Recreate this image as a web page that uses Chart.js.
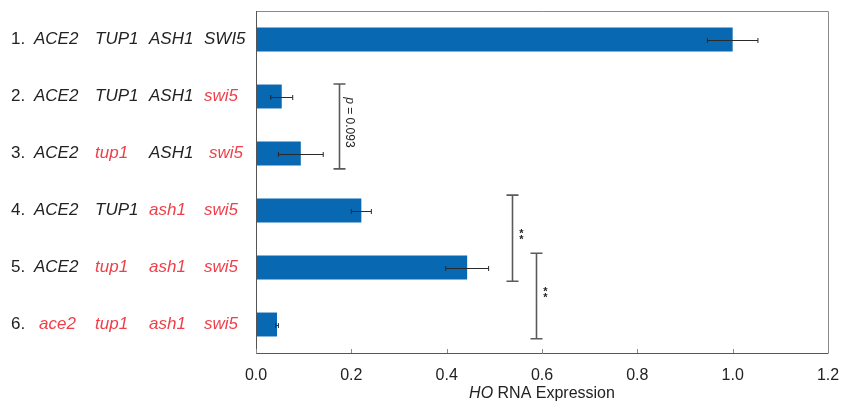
<!DOCTYPE html>
<html>
<head>
<meta charset="utf-8">
<script src="https://cdn.jsdelivr.net/npm/chart.js@4/dist/chart.umd.min.js"></script>
<style>
  html, body { margin: 0; padding: 0; background: #fff; }
  #wrap { width: 841px; height: 408px; position: relative; }
</style>
</head>
<body>
<div id="wrap"><canvas id="chart_HO"></canvas></div>
<script>
// strain rows (lower case = mutant allele, drawn red)
var rowNumbers = ['1.', '2.', '3.', '4.', '5.', '6.'];
var genotypes = [
  ['ACE2', 'TUP1', 'ASH1', 'SWI5'],
  ['ACE2', 'TUP1', 'ASH1', 'swi5'],
  ['ACE2', 'tup1', 'ASH1', 'swi5'],
  ['ACE2', 'TUP1', 'ash1', 'swi5'],
  ['ACE2', 'tup1', 'ash1', 'swi5'],
  ['ace2', 'tup1', 'ash1', 'swi5']
];
// HO RNA expression and error
var expression = [1.0, 0.054, 0.094, 0.221, 0.443, 0.044];
var errors = [0.053, 0.023, 0.047, 0.021, 0.045, 0.003];
var xTicks = [0, 0.2, 0.4, 0.6, 0.8, 1.0, 1.2];

// significance brackets: x value, from row, to row, label
var bracketX = [0.174, 0.538, 0.587];
var bracketFrom = [0.78, 2.73, 3.75];
var bracketTo = [2.27, 4.24, 5.25];
var bracketText = ['p = 0.093', '**', '**'];

var black = '#222222';
var red = '#ee3f4a';
var colX = [34, 95, 149, 204];
var fam = '"Liberation Sans", Arial, sans-serif';

var ctxHO = document.getElementById('chart_HO').getContext('2d');

// draws row labels, error bars, box, brackets and axis title
var extrasPlugin = {
  id: 'extras',
  afterDatasetsDraw: function(chart) {
    var c = chart.ctx;
    var xs = chart.scales.x;
    var ys = chart.scales.y;
    var area = chart.chartArea;
    c.save();

    // box around plot
    c.strokeStyle = '#8a8a8a';
    c.lineWidth = 1;
    c.beginPath();
    c.moveTo(area.left, area.top + 0.5);
    c.lineTo(area.right + 0.5, area.top + 0.5);
    c.lineTo(area.right + 0.5, area.bottom);
    c.stroke();
    c.strokeStyle = '#555';
    c.beginPath();
    c.moveTo(area.left + 0.5, area.top);
    c.lineTo(area.left + 0.5, area.bottom + 0.5);
    c.lineTo(area.right + 0.5, area.bottom + 0.5);
    c.stroke();
    // small inner ticks
    c.strokeStyle = '#8a8a8a';
    xTicks.forEach(function(t) {
      var px = Math.round(xs.getPixelForValue(t)) + 0.5;
      c.beginPath();
      c.moveTo(px, area.bottom);
      c.lineTo(px, area.bottom - 4);
      c.stroke();
    });

    // error bars
    c.strokeStyle = '#2a2a2a';
    c.lineWidth = 1;
    expression.forEach(function(v, i) {
      var py = Math.round(ys.getPixelForValue(i)) + 0.5;
      var x1 = xs.getPixelForValue(v - errors[i]);
      var x2 = xs.getPixelForValue(v + errors[i]);
      c.beginPath();
      c.moveTo(x1, py); c.lineTo(x2, py);
      c.moveTo(x1, py - 2.5); c.lineTo(x1, py + 2.5);
      c.moveTo(x2, py - 2.5); c.lineTo(x2, py + 2.5);
      c.stroke();
    });

    // brackets
    bracketX.forEach(function(bx, i) {
      var px = Math.round(xs.getPixelForValue(bx)) + 0.5;
      var y1 = ys.getPixelForValue(bracketFrom[i]);
      var y2 = ys.getPixelForValue(bracketTo[i]);
      var mid = (y1 + y2) / 2;
      c.strokeStyle = '#5a5a5a';
      c.lineWidth = 1.6;
      c.beginPath();
      c.moveTo(px, y1); c.lineTo(px, y2);
      c.moveTo(px - 6, y1); c.lineTo(px + 6, y1);
      c.moveTo(px - 6, y2); c.lineTo(px + 6, y2);
      c.stroke();
      c.fillStyle = '#222';
      c.textAlign = 'center';
      c.textBaseline = 'middle';
      if (bracketText[i] === '**') {
        c.font = 'bold 11px ' + fam;
        c.fillText('*', px + 9, mid - 4);
        c.fillText('*', px + 9, mid + 2);
      } else {
        c.save();
        c.translate(px + 10, mid - 4);
        c.rotate(Math.PI / 2);
        c.font = 'italic 12px ' + fam;
        var w1 = c.measureText('p').width;
        c.font = '12px ' + fam;
        var rest = ' = 0.093';
        var w2 = c.measureText(rest).width;
        var sx = -(w1 + w2) / 2;
        c.textAlign = 'left';
        c.font = 'italic 12px ' + fam;
        c.fillText('p', sx, 0);
        c.font = '12px ' + fam;
        c.fillText(rest, sx + w1, 0);
        c.restore();
      }
    });

    // row labels
    c.textBaseline = 'middle';
    c.textAlign = 'left';
    genotypes.forEach(function(row, i) {
      var py = ys.getPixelForValue(i);
      c.font = '17px ' + fam;
      c.fillStyle = black;
      c.fillText(rowNumbers[i], 11, py);
      c.font = 'italic 17px ' + fam;
      row.forEach(function(g, j) {
        var isMut = g !== g.toUpperCase();
        var gx = colX[j];
        if (i === 2 && j === 3) gx = 209;
        if (i === 5 && j === 0) gx = 39;
        c.fillStyle = isMut ? red : black;
        c.fillText(g, gx, py);
      });
    });

    // axis title with italic HO
    var cx = (area.left + area.right) / 2;
    var ty = 394;
    c.fillStyle = black;
    c.font = 'italic 16px ' + fam;
    var a = 'HO';
    var wa = c.measureText(a).width;
    c.font = '16px ' + fam;
    var b = ' RNA Expression';
    var wb = c.measureText(b).width;
    var sx0 = cx - (wa + wb) / 2;
    c.font = 'italic 16px ' + fam;
    c.fillText(a, sx0, ty);
    c.font = '16px ' + fam;
    c.fillText(b, sx0 + wa, ty);
    c.restore();
  }
};

var configHO = {
  type: 'bar',
  data: {
    labels: rowNumbers,
    datasets: [{
      label: 'HO RNA Expression',
      data: expression,
      backgroundColor: '#0868b2',
      borderWidth: 0,
      barPercentage: 0.84,
      categoryPercentage: 0.5
    }]
  },
  options: {
    indexAxis: 'y',
    responsive: true,
    maintainAspectRatio: false,
    animation: false,
    layout: { padding: { left: 248, right: 13, top: 11, bottom: -7 } },
    plugins: {
      legend: { display: false },
      tooltip: { enabled: false }
    },
    scales: {
      x: {
        min: 0, max: 1.2,
        afterBuildTicks: function(axis) {
          axis.ticks = xTicks.map(function(v) { return { value: v }; });
        },
        afterFit: function(axis) {
          axis.paddingLeft = 0;
          axis.paddingRight = 0;
        },
        grid: { display: false, drawTicks: false },
        border: { display: false },
        ticks: {
          color: '#222',
          padding: 15,
          font: { family: fam, size: 16, lineHeight: 1 },
          callback: function(v) { return Number(v).toFixed(1); }
        },
        title: {
          display: true,
          text: 'HO RNA Expression',
          color: 'rgba(0,0,0,0)',
          padding: { top: 0, bottom: 0 },
          font: { family: fam, size: 16, lineHeight: 1 }
        }
      },
      y: {
        grid: { display: false },
        border: { display: false },
        ticks: { display: false }
      }
    }
  },
  plugins: [extrasPlugin]
};

var ChartHO = new Chart(ctxHO, configHO);
</script>
</body>
</html>
